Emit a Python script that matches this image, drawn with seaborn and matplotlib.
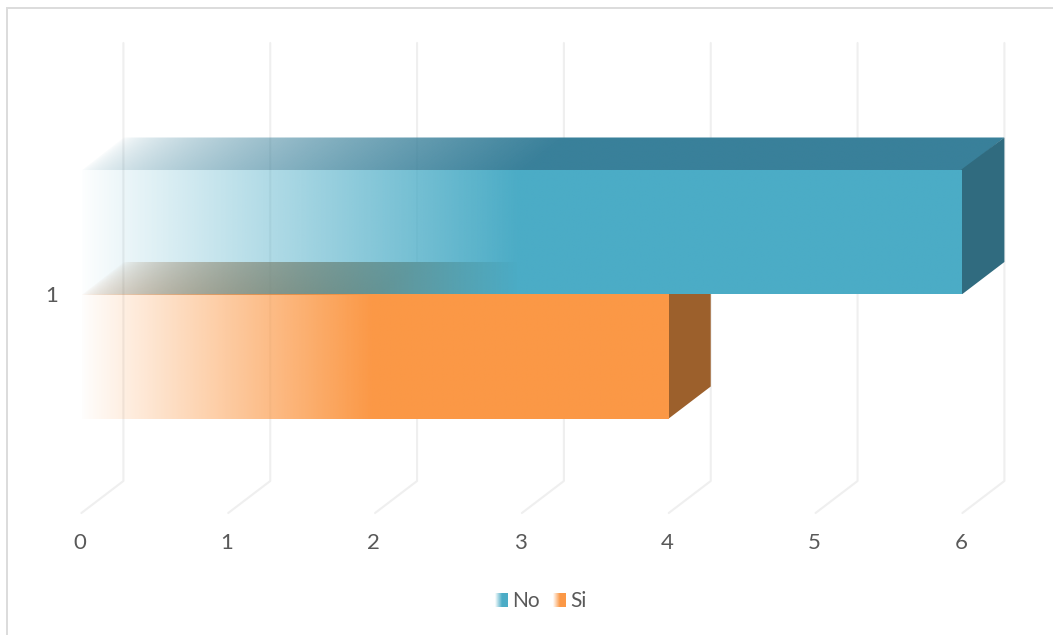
import numpy as np
import pandas as pd
import matplotlib
matplotlib.use("Agg")
import matplotlib.pyplot as plt
from matplotlib.legend_handler import HandlerBase
from matplotlib.patches import Patch, Polygon, Rectangle
from matplotlib.transforms import ScaledTranslation
import seaborn as sns

categories = ["1"]
series_names = ["No", "Si"]
series_values = [6, 4]
x_ticks = [0, 1, 2, 3, 4, 5, 6]

front_colors = {"No": "#4BACC6", "Si": "#FB9846"}
top_colors = {"No": "#39809A", "Si": "#9C602C"}
side_colors = {"No": "#306B7F", "Si": "#9C602C"}
text_color = "#595959"
grid_color = "#EFEFEF"

W, H = 1053, 635
sns.set_theme(style="white")
plt.rcParams["font.family"] = ["Lato", "DejaVu Sans"]

fig = plt.figure(figsize=(W / 100, H / 100), dpi=100, facecolor="white")
left, right, top, bottom = 81.4, 962.4, 75, 513
ax = fig.add_axes([left / W, 1 - bottom / H, (right - left) / W, (bottom - top) / H])

df = pd.DataFrame({
    "category": categories * len(series_names),
    "series": series_names,
    "value": series_values,
})
sns.barplot(data=df, x="value", y="category", hue="series", hue_order=series_names,
            palette=front_colors, orient="h", width=0.8, gap=0, saturation=1,
            legend=False, ax=ax)

ax.set_xlim(0, 6)
px_per_y = 249 / 0.8
px_per_x = (right - left) / 6
half_span = (bottom - top) / 2 / px_per_y
ax.set_ylim(half_span, -half_span)
sns.despine(ax=ax, left=True, bottom=True)
ax.set_xlabel("")
ax.set_ylabel("")
ax.set_xticks(x_ticks)
ax.tick_params(axis="x", length=0, pad=14.5, labelsize=16, labelcolor=text_color)
ax.tick_params(axis="y", length=0, pad=17, labelsize=16, labelcolor=text_color)
ax.patch.set_alpha(0)

# Nudge the value labels a little to the left of their ticks
nudge = ScaledTranslation(-1.2 / 100, 0, fig.dpi_scale_trans)
for label in ax.get_xticklabels():
    label.set_transform(label.get_transform() + nudge)

# Oblique depth of the box, in data units
depth_x = 42 / px_per_x
depth_y = 32 / px_per_y

# Back-wall grid lines with their short floor diagonals
for tick in x_ticks:
    ax.plot([tick, tick + depth_x, tick + depth_x],
            [half_span, half_span - depth_y, -half_span - depth_y],
            color=grid_color, lw=1.5, clip_on=False, zorder=0.5)


def faded_face(x0, x1, y0, y1, skew, color, fade_end, verts, zorder, gamma=1.0, lift=0.0):
    """Paint a face whose opacity ramps up from the bar base to fade_end."""
    xs = np.linspace(x0, x1, 700)
    ys = np.linspace(y0, y1, 60)
    grid_x, grid_y = np.meshgrid(xs, ys)
    shift = skew * (y0 - grid_y) / (y0 - y1)
    alpha = np.clip((grid_x - shift) / fade_end, 0, 1) ** gamma
    alpha = np.clip(alpha + lift * (alpha > 0), 0, 1)
    rgba = np.zeros(alpha.shape + (4,))
    rgba[..., :3] = matplotlib.colors.to_rgb(color)
    rgba[..., 3] = alpha
    image = ax.imshow(rgba, extent=(x0, x1, y0, y1), origin="lower", aspect="auto",
                      interpolation="bilinear", zorder=zorder)
    image.set_clip_path(Polygon(verts, closed=True, transform=ax.transData))
    image.set_clip_box(fig.bbox)


# The later series is painted first so the earlier one sits in front of it
bleed_x, bleed_y = 1 / px_per_x, 1 / px_per_y
containers = list(zip(series_names, series_values, ax.containers))
for order, (name, value, container) in enumerate(reversed(containers)):
    bar = container[0]
    y_high, y_low = bar.get_y(), bar.get_y() + bar.get_height()
    base_z = 1 + order
    fade_end = value / 2
    bar.set_visible(False)

    # Top face runs one pixel under the front face so no seam shows between them
    top_verts = [(0, y_high + bleed_y), (value, y_high + bleed_y),
                 (value + depth_x, y_high - depth_y), (depth_x, y_high - depth_y)]
    faded_face(0, value + depth_x, y_high + bleed_y, y_high - depth_y, depth_x,
               top_colors[name], fade_end, top_verts, base_z, gamma=0.62)

    side_verts = [(value - bleed_x, y_high), (value + depth_x, y_high - depth_y),
                  (value + depth_x, y_low - depth_y), (value, y_low), (value - bleed_x, y_low)]
    ax.add_patch(Polygon(side_verts, closed=True, facecolor=side_colors[name],
                         edgecolor="none", clip_on=False, zorder=base_z))

    front_verts = [(0, y_high), (value, y_high), (value, y_low), (0, y_low)]
    faded_face(0, value, y_high, y_low, 0, front_colors[name], fade_end,
               front_verts, base_z + 0.5, lift=0.012)

ax.set_xlim(0, 6)
ax.set_ylim(half_span, -half_span)


class FadedKey(HandlerBase):
    """Legend key built from narrow strips with rising opacity."""

    def create_artists(self, legend, orig_handle, xdescent, ydescent, width, height,
                       fontsize, trans):
        steps = 14
        strip = width / steps
        artists = []
        for i in range(steps):
            opacity = min(1.0, (i + 0.5) / (steps / 2))
            artists.append(Rectangle((-xdescent + i * strip, -ydescent), strip * 1.02, height,
                                     facecolor=orig_handle.get_facecolor(), alpha=opacity,
                                     edgecolor="none", transform=trans))
        return artists


handles = [Patch(facecolor=front_colors[n], label=n) for n in series_names]
legend = fig.legend(handles=handles, labels=series_names, ncol=2, frameon=False,
                    loc="center", bbox_to_anchor=(541 / W, 1 - 601 / H),
                    fontsize=15, labelcolor=text_color,
                    handler_map={Patch: FadedKey()},
                    handlelength=0.624, handleheight=0.67, handletextpad=0.2,
                    columnspacing=0.62, borderpad=0, borderaxespad=0)

# Chart-area border along the top and left edges
fig.add_artist(Rectangle((7 / W, -0.02), 1.1, 1.02 - 8 / H, transform=fig.transFigure,
                         facecolor="none", edgecolor="#DCDCDC", lw=1.4))

fig.savefig("out.png", dpi=100)
